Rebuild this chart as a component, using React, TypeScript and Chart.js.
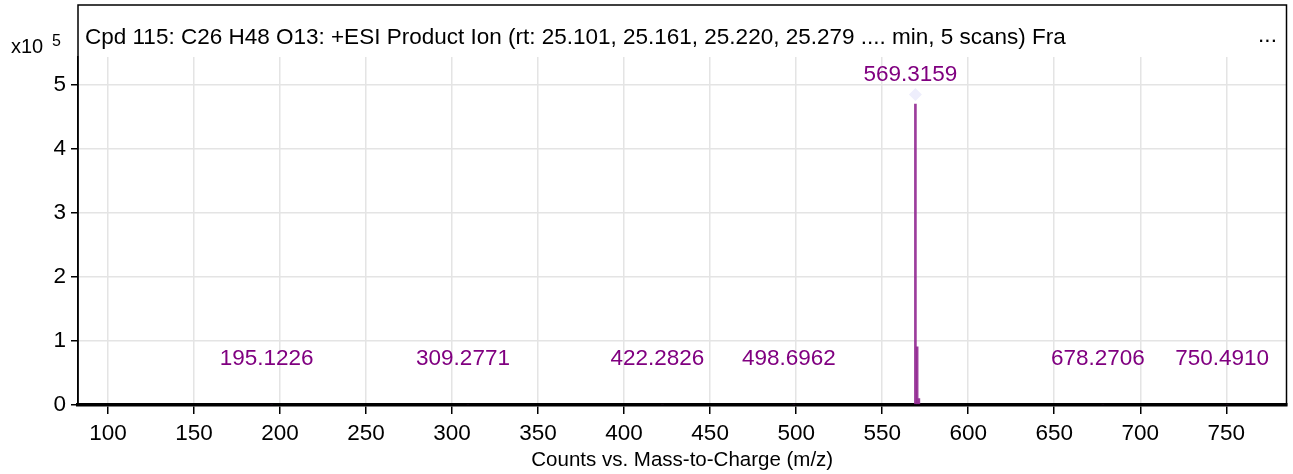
import React, { useEffect, useRef } from "react";
import { Chart, registerables } from "chart.js";

Chart.register(...registerables);

// ---- data (counts in units of 10^5) ----
const peakMz = [195.1226, 309.2771, 422.2826, 498.6962, 569.3159, 570.319, 571.32, 678.2706, 750.491];
const peakCounts = [0.012, 0.012, 0.012, 0.01, 4.7, 0.91, 0.1, 0.012, 0.01];
const labeledMz = [195.1226, 309.2771, 422.2826, 498.6962, 569.3159, 678.2706, 750.491];
const labelTexts = ["195.1226", "309.2771", "422.2826", "498.6962", "569.3159", "678.2706", "750.4910"];
const precursorMz = [569.3159];
const precursorMarker = [4.85];
const xTicks = [100, 150, 200, 250, 300, 350, 400, 450, 500, 550, 600, 650, 700, 750];
const yTicks = [0, 1, 2, 3, 4, 5];
const yExponent = "5";
const titleText =
  "Cpd 115: C26 H48 O13: +ESI Product Ion (rt: 25.101, 25.161, 25.220, 25.279 .... min, 5 scans) Fra";
const xAxisTitle = "Counts vs. Mass-to-Charge (m/z)";

const FONT = "'Liberation Sans', Arial, sans-serif";
const LABEL_COLOR = "#800080";

const decorPlugin = {
  id: "decor",
  afterDraw(chart: any) {
    const { ctx, chartArea, scales } = chart;
    const x = scales.x;
    const y = scales.y;
    ctx.save();
    // peak labels
    ctx.font = `22.5px ${FONT}`;
    ctx.fillStyle = LABEL_COLOR;
    ctx.textAlign = "center";
    ctx.textBaseline = "middle";
    labeledMz.forEach((mz, i) => {
      const idx = peakMz.indexOf(mz);
      const h = idx >= 0 ? peakCounts[idx] : 0;
      const py = Math.min(y.getPixelForValue(h) - 29, y.getPixelForValue(0) - 46);
      ctx.fillText(labelTexts[i], x.getPixelForValue(mz) - 5, py);
    });
    // frame
    const top = chartArea.top - 52;
    ctx.strokeStyle = "#000";
    ctx.lineWidth = 1.5;
    ctx.strokeRect(chartArea.left, top, chartArea.right - chartArea.left, chartArea.bottom - top);
    // title
    ctx.fillStyle = "#000";
    ctx.textAlign = "left";
    ctx.font = `22.5px ${FONT}`;
    ctx.fillText(titleText, chartArea.left + 7, chartArea.top - 19);
    ctx.textAlign = "center";
    ctx.fillText("...", chartArea.right - 19, chartArea.top - 21);
    // exponent
    ctx.textAlign = "left";
    ctx.font = `20px ${FONT}`;
    ctx.fillText("x10", 11, chartArea.top - 10);
    ctx.font = `16px ${FONT}`;
    ctx.fillText(yExponent, 52, chartArea.top - 15);
    ctx.restore();
  },
};

export default function App() {
  const ref = useRef<HTMLCanvasElement | null>(null);
  useEffect(() => {
    if (!ref.current) return;
    const chart = new Chart(ref.current, {
      type: "bar",
      data: {
        datasets: [
          {
            type: "scatter" as any,
            data: precursorMz.map((m, i) => ({ x: m, y: precursorMarker[i] })),
            pointStyle: "rectRot",
            pointRadius: 6.5,
            backgroundColor: "#eeeefc",
            borderColor: "#eeeefc",
            borderWidth: 0,
          } as any,
          {
            type: "bar",
            data: peakMz.map((m, i) => ({ x: m, y: peakCounts[i] })),
            backgroundColor: "rgba(145,40,145,0.9)",
            barThickness: 2,
            grouped: false,
          } as any,
        ],
      },
      options: {
        responsive: false,
        animation: false,
        events: [],
        layout: { padding: { left: 0, right: 5, top: 57, bottom: 0 } },
        plugins: { legend: { display: false }, tooltip: { enabled: false }, title: { display: false } },
        scales: {
          x: {
            type: "linear",
            offset: false,
            min: 82.6,
            max: 785,
            afterFit: (s: any) => {
              s.height = 69;
            },
            afterBuildTicks: (s: any) => {
              s.ticks = xTicks.map((v) => ({ value: v }));
            },
            grid: { offset: false, color: "#e4e4e4", lineWidth: 1.5, tickColor: "#000", tickLength: 9, tickWidth: 1.5 },
            border: { color: "#000", width: 3.5 },
            ticks: { color: "#000", font: { family: FONT, size: 22.5 }, padding: 6, maxRotation: 0, autoSkip: false },
            title: {
              display: true,
              text: xAxisTitle,
              color: "#000",
              font: { family: FONT, size: 20.5 },
              padding: { top: 0, bottom: 1 },
            },
          },
          y: {
            type: "linear",
            min: 0,
            max: 5.4375,
            afterFit: (s: any) => {
              s.width = 78;
            },
            afterBuildTicks: (s: any) => {
              s.ticks = yTicks.map((v) => ({ value: v }));
            },
            grid: { color: "#e4e4e4", lineWidth: 1.5, tickColor: "#000", tickLength: 7, tickWidth: 1.5 },
            border: { color: "#000", width: 1.5 },
            ticks: { color: "#000", font: { family: FONT, size: 22.5 }, padding: 5 },
          },
        },
      },
      plugins: [decorPlugin],
    });
    return () => chart.destroy();
  }, []);
  return (
    <div style={{ position: "fixed", left: 0, top: 0, width: 1293, height: 474, background: "#fff" }}>
      <canvas ref={ref} width={1293} height={474} style={{ width: 1293, height: 474, display: "block" }} />
    </div>
  );
}
